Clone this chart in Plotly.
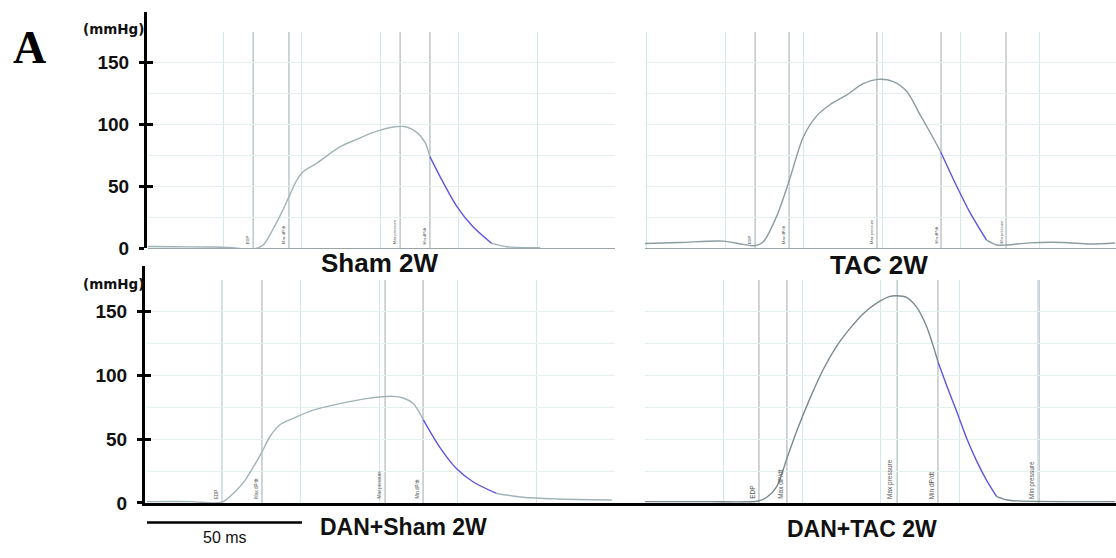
import plotly.graph_objects as go

W, H = 1116, 558

# ---------------- data (time in ms, pressure in mmHg) ----------------
# Sham 2W
sham_t = [0.8, 10, 21.8, 28, 34.6, 37.8, 41.0, 44.2, 46.1, 48.5, 50.6, 54.8, 62.3, 67.6, 72.9, 79.2, 83.5, 86.7, 89.3, 90.9]
sham_p = [1.2, 1.0, 0.8, 0.2, -0.8, 2.4, 15.6, 31.5, 42, 55, 62, 68.5, 82, 88, 93.6, 98, 98, 93.6, 85.7, 74]
sham_relax_t = [90.9, 94.1, 99.4, 104.7, 110.6]
sham_relax_p = [74, 58, 34, 17, 3.7]
sham_tail_t = [110.6, 115.4, 126.0]
sham_tail_p = [3.7, 1.0, 0.2]
sham_markers = [34.6, 46.0, 81.4, 90.9]

# TAC 2W
tac_t = [-0.5, 10.7, 24.5, 30.8, 34.6, 37.2, 41.5, 45.5, 49.9, 54.2, 58.4, 63.8, 69.0, 73.8, 78.6, 82.9, 87.1, 90.3, 93.7]
tac_p = [3.7, 4.5, 5.6, 2.9, 1.9, 5.0, 26, 55, 89.7, 107, 116, 124, 133, 136.5, 134.7, 126.7, 108, 93.7, 77.8]
tac_relax_t = [93.7, 98.8, 103.0, 108.3]
tac_relax_p = [77.8, 50, 28.8, 6.3]
tac_tail_t = [108.3, 111.5, 114.7, 122.1, 132.7, 141.2, 149.2]
tac_tail_p = [6.3, 2.4, 2.4, 4.2, 4.5, 3.2, 4.0]
tac_markers = [34.6, 45.4, 73.4, 93.8, 114.5]

# DAN+Sham 2W
dsham_t = [1.1, 15, 24.9, 29.6, 32.3, 34.9, 37.6, 40.3, 43.4, 47.7, 54.0, 62.5, 71.0, 79.5, 82.7, 85.9, 89.1]
dsham_p = [1.0, 1.0, 0.5, 10, 17.7, 28, 39.5, 52.3, 61.3, 66.4, 72.8, 77.9, 81.8, 83.6, 82.3, 77.9, 65.1]
dsham_relax_t = [89.1, 94.4, 99.7, 105.0, 112.4]
dsham_relax_p = [65.1, 43.3, 26.7, 16.4, 7.4]
dsham_tail_t = [112.4, 120.9, 131.6, 149.1]
dsham_tail_p = [7.4, 4.4, 3.1, 2.3]
dsham_markers = [25.0, 37.7, 76.9, 89.0]

# DAN+TAC 2W
dtac_t = [0, 20, 36.1, 38.8, 41.9, 45.3, 48.3, 52.5, 56.8, 61.0, 65.3, 69.5, 73.8, 78.0, 80.1, 83.3, 86.5, 89.7, 93.4]
dtac_p = [1.0, 1.0, 1.5, 4.4, 12.6, 35.6, 56.2, 81.8, 104.9, 122.8, 136.9, 148.5, 156.7, 162, 162.5, 161.3, 153.6, 138.2, 110]
dtac_relax_t = [93.4, 96.1, 99.3, 102.4, 105.6, 108.8, 112.0]
dtac_relax_p = [110, 92, 71.5, 51, 33, 17.7, 4.9]
dtac_tail_t = [112.0, 115.0, 118.4, 149.7]
dtac_tail_p = [4.9, 2.5, 1.6, 1.0]
dtac_markers = [36.3, 45.2, 80.3, 93.3, 125.5]

marker_names = ["EDP", "Max dP/dt", "Max pressure", "Min dP/dt", "Min pressure"]
y_ticks = [0, 50, 100, 150]
panel_titles = ["Sham 2W", "TAC 2W", "DAN+Sham 2W", "DAN+TAC 2W"]

# ---------------- layout helpers ----------------
def px_x(p):
    return p / W

def px_y(p):
    return 1 - p / H

SCALE_X = 3.14  # px per ms

panels = [
    dict(t=sham_t, p=sham_p, rt=sham_relax_t, rp=sham_relax_p, tt=sham_tail_t, tp=sham_tail_p,
         m=sham_markers, xa="x", ya="y", xd=(148, 615), yd=(253, 32.5), x0=144.5, color="#a2b3b8",
         lab=4, title=panel_titles[0], tpos=(379, 268), tsize=26),
    dict(t=tac_t, p=tac_p, rt=tac_relax_t, rp=tac_relax_p, tt=tac_tail_t, tp=tac_tail_p,
         m=tac_markers, xa="x2", ya="y2", xd=(645, 1116), yd=(253, 32.5), x0=646.5, color="#8d9ca1",
         lab=4, title=panel_titles[1], tpos=(879, 270), tsize=26),
    dict(t=dsham_t, p=dsham_p, rt=dsham_relax_t, rp=dsham_relax_p, tt=dsham_tail_t, tp=dsham_tail_p,
         m=dsham_markers, xa="x3", ya="y3", xd=(147, 615), yd=(513, 285.5), x0=143.6, color="#a2b3b8",
         lab=4.5, title=panel_titles[2], tpos=(403, 538), tsize=23),
    dict(t=dtac_t, p=dtac_p, rt=dtac_relax_t, rp=dtac_relax_p, tt=dtac_tail_t, tp=dtac_tail_p,
         m=dtac_markers, xa="x4", ya="y4", xd=(645, 1116), yd=(513, 285.5), x0=645, color="#7b898e",
         lab=6.5, title=panel_titles[3], tpos=(862, 540), tsize=23),
]

fig = go.Figure()
shapes = []
annotations = []
layout = {}

GRID_V = "#d3e7ea"
GRID_H = "#e4efee"
BLUE = "#5f55e0"

for i, pn in enumerate(panels):
    xa, ya = pn["xa"], pn["ya"]
    for tx, py, col in [(pn["t"], pn["p"], pn["color"]), (pn["rt"], pn["rp"], BLUE), (pn["tt"], pn["tp"], pn["color"])]:
        fig.add_trace(go.Scatter(x=tx, y=py, xaxis=xa, yaxis=ya, mode="lines",
                                 line=dict(color=col, width=1.4, shape="spline", smoothing=0.8),
                                 hoverinfo="skip", showlegend=False))
    xk = "xaxis" if xa == "x" else "xaxis" + xa[1:]
    yk = "yaxis" if ya == "y" else "yaxis" + ya[1:]
    xl, xr = pn["xd"]
    yb, yt = pn["yd"]
    layout[xk] = dict(domain=[px_x(xl), px_x(xr)],
                      range=[(xl - pn["x0"]) / SCALE_X, (xr - pn["x0"]) / SCALE_X],
                      anchor=ya, showgrid=True, gridcolor=GRID_V, gridwidth=1, dtick=25, tick0=0,
                      zeroline=False, showticklabels=False, ticks="",
                      showline=(i < 2), linecolor="#9aa3a6", linewidth=1)
    layout[yk] = dict(domain=[px_y(yb), px_y(yt)], range=[0, 175], anchor=xa,
                      showgrid=True, gridcolor=GRID_H, gridwidth=1, dtick=25, tick0=0,
                      zeroline=False, showticklabels=False, ticks="", showline=False)
    for j, mt in enumerate(pn["m"]):
        shapes.append(dict(type="line", xref=xa, yref=ya, x0=mt, x1=mt, y0=0, y1=175,
                           line=dict(color="#9fabaf", width=1), layer="below"))
        annotations.append(dict(xref=xa, yref=ya, x=mt, y=0, text=marker_names[j],
                                showarrow=False, textangle=-90, xanchor="right", yanchor="bottom",
                                xshift=-1, yshift=2,
                                font=dict(size=pn["lab"], color="#555", family="Liberation Sans, Arial")))
    annotations.append(dict(xref="paper", yref="paper", x=px_x(pn["tpos"][0]), y=px_y(pn["tpos"][1]),
                            text=pn["title"], showarrow=False, xanchor="center", yanchor="middle",
                            font=dict(size=pn["tsize"], color="#111", family="Liberation Sans, Arial",
                                      weight="bold")))

# ---------------- y-axis display subplots ----------------
tickfont = dict(size=19, color="#111", family="Liberation Sans, Arial", weight="bold")
layout["xaxis5"] = dict(domain=[px_x(147), px_x(160)], range=[0, 1], visible=False, anchor="y5")
layout["yaxis5"] = dict(domain=[px_y(253), px_y(12)], range=[0, 241 / 1.26], anchor="x5",
                        showline=True, linecolor="#000", linewidth=3, ticks="outside", ticklen=5,
                        tickwidth=2.5, tickcolor="#000", tickvals=y_ticks, showgrid=False,
                        zeroline=False, tickfont=tickfont, ticklabelstandoff=6)
layout["yaxis7"] = dict(overlaying="y5", anchor="x5", side="left", range=[0, 241 / 1.26],
                        showline=False, ticks="inside", ticklen=6, tickwidth=2.5, tickcolor="#000",
                        tickvals=y_ticks, showticklabels=False, showgrid=False, zeroline=False)
layout["xaxis6"] = dict(domain=[px_x(145), 1], range=[0, 1], anchor="y6", showline=True,
                        linecolor="#000", linewidth=3, showticklabels=False, ticks="",
                        showgrid=False, zeroline=False)
layout["yaxis6"] = dict(domain=[px_y(513), px_y(271)], range=[0, 242 / 1.30], anchor="x6",
                        showline=True, linecolor="#000", linewidth=3, ticks="outside", ticklen=5,
                        tickwidth=2.5, tickcolor="#000", tickvals=y_ticks, showgrid=False,
                        zeroline=False, tickfont=tickfont, ticklabelstandoff=6)
layout["yaxis8"] = dict(overlaying="y6", anchor="x6", side="left", range=[0, 242 / 1.30],
                        showline=False, ticks="inside", ticklen=6, tickwidth=2.5, tickcolor="#000",
                        tickvals=y_ticks, showticklabels=False, showgrid=False, zeroline=False)

for xa, ya in [("x5", "y5"), ("x5", "y7"), ("x6", "y6"), ("x6", "y8")]:
    fig.add_trace(go.Scatter(x=[], y=[], xaxis=xa, yaxis=ya, mode="lines", showlegend=False, hoverinfo="skip"))

for yy in (30, 290):
    annotations.append(dict(xref="paper", yref="paper", x=px_x(113), y=px_y(yy), text="(mmHg)",
                            showarrow=False, xanchor="center", yanchor="middle",
                            font=dict(size=13.5, color="#111", family="DejaVu Sans, Arial", weight="bold")))
annotations.append(dict(xref="paper", yref="paper", x=px_x(29), y=px_y(48), text="A", showarrow=False,
                        xanchor="center", yanchor="middle",
                        font=dict(size=46, color="#000", family="Liberation Serif, Times New Roman", weight="bold")))
# 50 ms scale bar (drawn in the DAN+Sham time axis)
shapes.append(dict(type="line", xref="x3", yref="paper", x0=0.45, x1=50.45, y0=px_y(533), y1=px_y(533),
                   line=dict(color="#000", width=2.5)))
annotations.append(dict(xref="paper", yref="paper", x=px_x(225), y=px_y(548), text="50 ms", showarrow=False,
                        xanchor="center", yanchor="middle",
                        font=dict(size=16, color="#111", family="Liberation Sans, Arial")))

fig.update_layout(width=W, height=H, margin=dict(l=0, r=0, t=0, b=0), paper_bgcolor="white",
                  plot_bgcolor="rgba(0,0,0,0)", showlegend=False, shapes=shapes, annotations=annotations,
                  **layout)

fig.write_html("out.html", config={"responsive": False, "displayModeBar": False},
               post_script="document.body.style.margin='0';document.body.style.padding='0';"
                           "document.documentElement.style.overflow='hidden';")
